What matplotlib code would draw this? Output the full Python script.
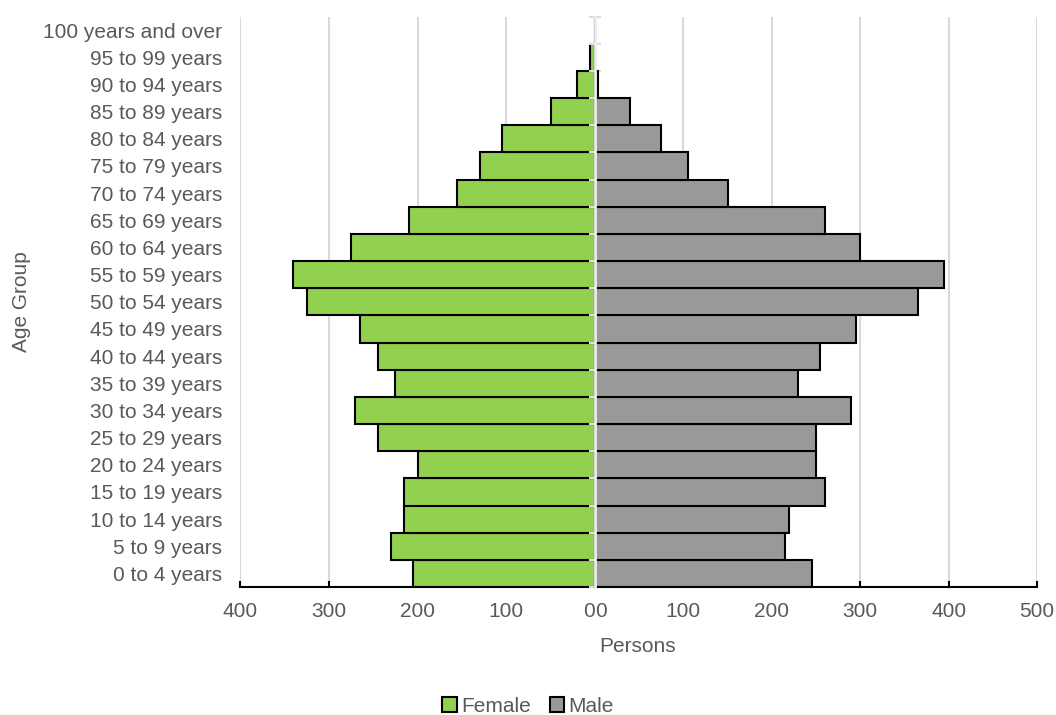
import numpy as np
import matplotlib.pyplot as plt
from matplotlib.patches import Patch

# Data
# ------------------------------------------------------------------------

age_groups = [
    '0 to 4 years', '5 to 9 years', '10 to 14 years', '15 to 19 years',
    '20 to 24 years', '25 to 29 years', '30 to 34 years', '35 to 39 years',
    '40 to 44 years', '45 to 49 years', '50 to 54 years', '55 to 59 years',
    '60 to 64 years', '65 to 69 years', '70 to 74 years', '75 to 79 years',
    '80 to 84 years', '85 to 89 years', '90 to 94 years', '95 to 99 years',
    '100 years and over',
]
female = [205, 230, 215, 215, 200, 245, 270, 225, 245, 265, 325,
          340, 275, 210, 155, 130, 105, 50, 20, 6, 0]
male = [245, 215, 220, 260, 250, 250, 290, 230, 255, 295, 365,
        395, 300, 260, 150, 105, 75, 40, 3, 0, 0]

female_ticks = [400, 300, 200, 100, 0]
male_ticks = [0, 100, 200, 300, 400, 500]

# Plot
# ------------------------------------------------------------------------

plt.rcParams['font.family'] = ['Liberation Sans', 'DejaVu Sans']
text_color = '#595959'
green = '#92d050'
grey = '#999999'
grid_color = '#d9d9d9'
fs = 15

fig = plt.figure(figsize=(10.56, 7.15), dpi=100)
bottom, top = 1 - 587 / 715, 1 - 16.5 / 715
x0, xm, x1 = 240 / 1056, 595 / 1056, 1037 / 1056
ax_f = fig.add_axes([x0, bottom, xm - x0, top - bottom])
ax_m = fig.add_axes([xm, bottom, x1 - xm, top - bottom])

y = np.arange(len(age_groups))

ax_f.barh(y, female, height=1.0, color=green, edgecolor='black', linewidth=1.5, zorder=2)
ax_m.barh(y, male, height=1.0, color=grey, edgecolor='black', linewidth=1.5, zorder=2)

ax_f.set_xlim(400, 0)
ax_m.set_xlim(0, 500)
for ax in (ax_f, ax_m):
    ax.set_ylim(-0.5, len(age_groups) - 0.5)
    ax.set_facecolor('none')
    ax.grid(axis='x', color=grid_color, linewidth=1.5, zorder=0)
    ax.set_axisbelow(True)
    for s in ('top', 'right', 'left'):
        ax.spines[s].set_visible(False)
    ax.spines['bottom'].set_color('black')
    ax.spines['bottom'].set_linewidth(1.5)
    ax.tick_params(axis='x', direction='in', length=4.5, width=1.5, color='black',
                   pad=11, labelsize=fs, labelcolor=text_color)

ax_f.set_xticks(female_ticks)
ax_f.set_xticklabels([str(v) for v in female_ticks])
ax_m.set_xticks(male_ticks)
ax_m.set_xticklabels([str(v) for v in male_ticks])
ax_f.get_xticklabels()[-1].set_ha('right')
ax_m.get_xticklabels()[0].set_ha('left')

# category labels on the left, no tick marks
ax_f.set_yticks(y)
ax_f.set_yticklabels(age_groups)
ax_f.tick_params(axis='y', length=0, pad=13, labelsize=fs, labelcolor=text_color)

# centre axis: light line with ticks between categories
ax_m.spines['left'].set_visible(True)
ax_m.spines['left'].set_color('#eeeeee')
ax_m.spines['left'].set_linewidth(2)
ax_m.spines['left'].set_zorder(3)
ax_m.set_yticks(np.arange(len(age_groups) + 1) - 0.5)
ax_m.set_yticklabels([])
ax_m.tick_params(axis='y', direction='inout', length=8, width=1.5, color='#dddddd')

fig.text(22 / 1056, 1 - 302 / 715, 'Age Group', rotation=90, ha='center', va='center',
         fontsize=fs, color=text_color)
fig.text(638 / 1056, 1 - 647 / 715, 'Persons', ha='center', va='center',
         fontsize=fs, color=text_color)

handles = [Patch(facecolor=green, edgecolor='black', linewidth=1.5, label='Female'),
           Patch(facecolor=grey, edgecolor='black', linewidth=1.5, label='Male')]
fig.legend(handles=handles, loc='center', bbox_to_anchor=(528 / 1056, 1 - 706 / 715),
           ncol=2, frameon=False, fontsize=fs, labelcolor=text_color,
           handlelength=0.7, handleheight=0.7, handletextpad=0.2, columnspacing=0.9)

fig.savefig('out.png', dpi=100)
